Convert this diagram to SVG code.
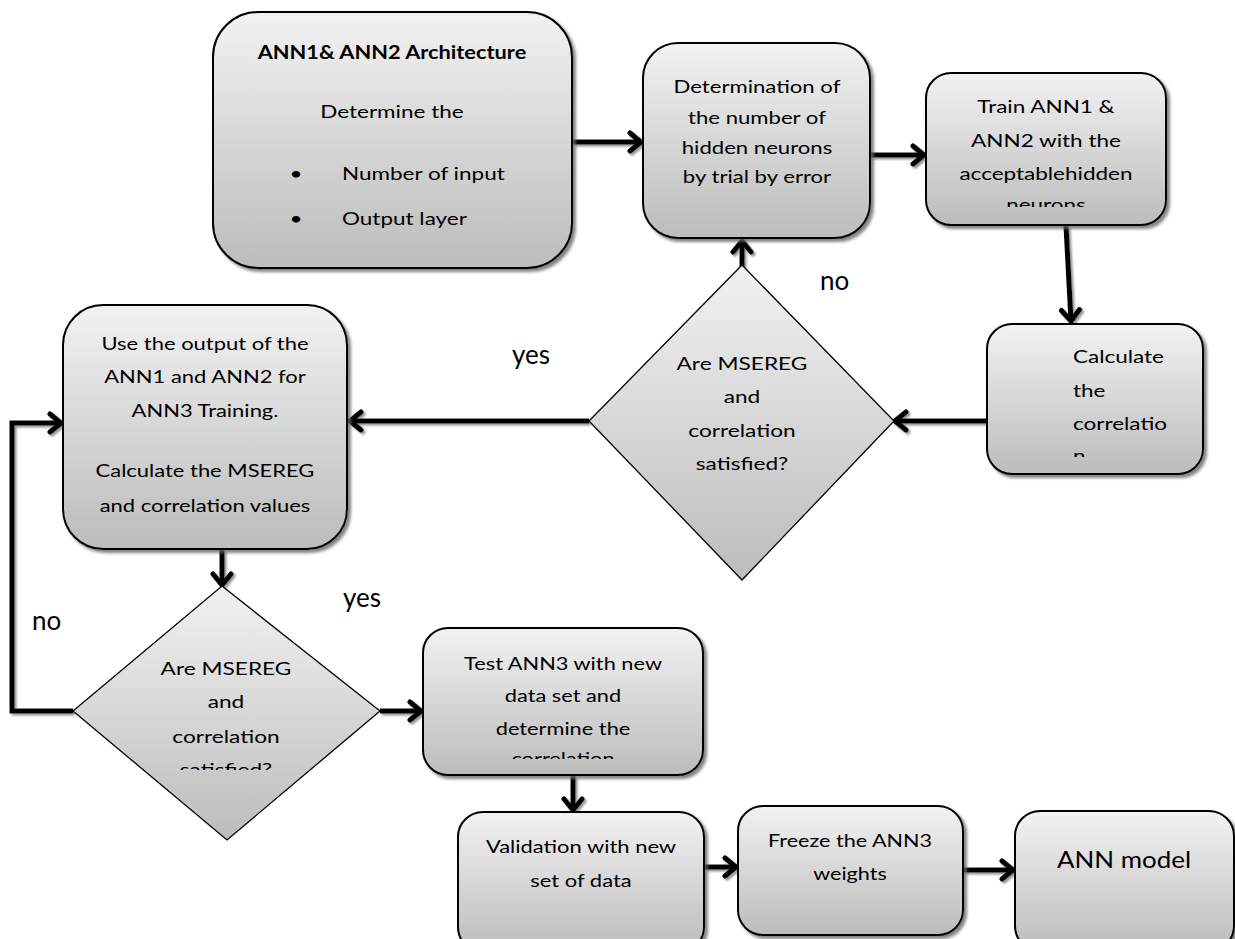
<svg xmlns="http://www.w3.org/2000/svg" width="1235" height="939" viewBox="0 0 1235 939">
<style>
  .box{fill:url(#g);stroke:#000;stroke-width:2;filter:url(#sh)}
  .dia{fill:url(#g);stroke:#000;stroke-width:1.3}
  .t{font-family:Lato,"Liberation Sans",sans-serif;font-size:18px;fill:#000;text-anchor:middle}
  .tl{text-anchor:start}
  .b{font-weight:bold}
  .lbl{font-family:Lato,"Liberation Sans",sans-serif;font-size:26px;fill:#000}
  .c{fill:none;stroke:#000;stroke-width:5;marker-end:url(#ah)}
</style>
<defs>
  <linearGradient id="g" x1="0" y1="0" x2="0" y2="1">
    <stop offset="0" stop-color="#f2f2f2"/>
    <stop offset="1" stop-color="#bcbcbc"/>
  </linearGradient>
  <filter id="sh" x="-10%" y="-10%" width="130%" height="130%">
    <feDropShadow dx="3" dy="3" stdDeviation="1.5" flood-color="#666" flood-opacity="0.8"/>
  </filter>
  <filter id="ls" x="-20%" y="-20%" width="140%" height="140%">
    <feDropShadow dx="2" dy="2" stdDeviation="1" flood-color="#777" flood-opacity="0.8"/>
  </filter>
  <marker id="ah" viewBox="-14 -12 18 24" markerWidth="18" markerHeight="24" refX="0" refY="0" orient="auto" markerUnits="userSpaceOnUse">
    <path d="M-11,-9 L0,0 L-11,9" fill="none" stroke="#000" stroke-width="5" stroke-linecap="round" stroke-linejoin="miter"/>
  </marker>
  <clipPath id="c3"><rect x="926" y="60" width="240" height="147"/></clipPath>
  <clipPath id="cc"><rect x="987" y="320" width="216" height="137"/></clipPath>
  <clipPath id="cd2"><rect x="60" y="580" width="330" height="190"/></clipPath>
  <clipPath id="ct"><rect x="423" y="620" width="280" height="139"/></clipPath>
</defs>

<g id="connectors" filter="url(#ls)">
  <line class="c" x1="573" y1="142" x2="641" y2="142"/>
  <line class="c" x1="870" y1="155" x2="924" y2="155"/>
  <line class="c" x1="1066" y1="226" x2="1071" y2="321"/>
  <line class="c" x1="987" y1="421" x2="895" y2="421"/>
  <line class="c" x1="742" y1="282" x2="742" y2="241"/>
  <line class="c" x1="589" y1="421" x2="350" y2="421"/>
  <line class="c" x1="222" y1="550" x2="222" y2="585"/>
  <polyline class="c" points="73,711 12,711 12,423 61,423"/>
  <line class="c" x1="380" y1="711" x2="421" y2="711"/>
  <line class="c" x1="573" y1="776" x2="573" y2="810"/>
  <line class="c" x1="704" y1="867" x2="736" y2="867"/>
  <line class="c" x1="963" y1="870" x2="1013" y2="870"/>
</g>

<g id="n-arch">
  <rect class="box" x="213" y="12" width="359" height="256" rx="45"/>
  <g transform="matrix(1.21,0,0,1,-82.32,0)">
    <text class="t b" x="392" y="59">ANN1&amp; ANN2 Architecture</text>
  </g>
  <g transform="matrix(1.25,0,0,1,-98,0)">
    <text class="t" x="392" y="118">Determine the</text>
    <text class="t tl" x="310" y="180">•</text>
    <text class="t tl" x="352" y="180">Number of input</text>
    <text class="t tl" x="310" y="225">•</text>
    <text class="t tl" x="352" y="225">Output layer</text>
  </g>
</g>

<g id="n-hidden">
  <rect class="box" x="643" y="43" width="227" height="195" rx="35"/>
  <g transform="matrix(1.23,0,0,1,-174.11,0)">
    <text class="t" x="757" y="93">Determination of</text>
    <text class="t" x="757" y="124">the number of</text>
    <text class="t" x="757" y="154">hidden neurons</text>
    <text class="t" x="757" y="183">by trial by error</text>
  </g>
</g>

<g id="n-train">
  <rect class="box" x="926" y="73" width="240" height="152" rx="25"/>
  <g clip-path="url(#c3)">
    <g transform="matrix(1.25,0,0,1,-261.5,0)">
      <text class="t" x="1046" y="113">Train ANN1 &amp;</text>
      <text class="t" x="1046" y="147">ANN2 with the</text>
      <text class="t" x="1046" y="180">acceptablehidden</text>
      <text class="t" x="1046" y="211">neurons</text>
    </g>
  </g>
</g>

<g id="n-calc">
  <rect class="box" x="987" y="324" width="216" height="150" rx="25"/>
  <g clip-path="url(#cc)">
    <g transform="matrix(1.25,0,0,1,-268.25,0)">
      <text class="t tl" x="1073" y="363">Calculate</text>
      <text class="t tl" x="1073" y="397">the</text>
      <text class="t tl" x="1073" y="430">correlatio</text>
      <text class="t tl" x="1073" y="462">n</text>
    </g>
  </g>
</g>

<g id="n-dec1">
  <polygon class="dia" points="742,265 894,421 742,580 589,421"/>
  <g transform="matrix(1.26,0,0,1,-192.92,0)">
    <text class="t" x="742" y="370">Are MSEREG</text>
    <text class="t" x="742" y="403">and</text>
    <text class="t" x="742" y="437">correlation</text>
    <text class="t" x="742" y="470">satisfied?</text>
  </g>
</g>

<g id="n-use">
  <rect class="box" x="63" y="305" width="284" height="244" rx="40"/>
  <g transform="matrix(1.22,0,0,1,-45.1,0)">
    <text class="t" x="205" y="350">Use the output of the</text>
    <text class="t" x="205" y="383">ANN1 and ANN2 for</text>
    <text class="t" x="205" y="417">ANN3 Training.</text>
    <text class="t" x="205" y="477">Calculate the MSEREG</text>
    <text class="t" x="205" y="512">and correlation values</text>
  </g>
</g>

<g id="n-dec2">
  <polygon class="dia" points="222,586 380,711 227,840 73,711"/>
  <g clip-path="url(#cd2)">
    <g transform="matrix(1.26,0,0,1,-58.76,0)">
      <text class="t" x="226" y="675">Are MSEREG</text>
      <text class="t" x="226" y="708">and</text>
      <text class="t" x="226" y="743">correlation</text>
      <text class="t" x="226" y="776">satisfied?</text>
    </g>
  </g>
</g>

<g id="n-test">
  <rect class="box" x="423" y="628" width="280" height="147" rx="25"/>
  <g clip-path="url(#ct)">
    <g transform="matrix(1.21,0,0,1,-118.23,0)">
      <text class="t" x="563" y="670">Test ANN3 with new</text>
      <text class="t" x="563" y="702">data set and</text>
      <text class="t" x="563" y="735">determine the</text>
      <text class="t" x="563" y="765">correlation</text>
    </g>
  </g>
</g>

<g id="n-valid">
  <rect class="box" x="458" y="812" width="246" height="140" rx="25"/>
  <g transform="matrix(1.22,0,0,1,-127.82,0)">
    <text class="t" x="581" y="853">Validation with new</text>
    <text class="t" x="581" y="887">set of data</text>
  </g>
</g>

<g id="n-freeze">
  <rect class="box" x="738" y="806" width="225" height="129" rx="25"/>
  <g transform="matrix(1.2,0,0,1,-170,0)">
    <text class="t" x="850" y="847">Freeze the ANN3</text>
    <text class="t" x="850" y="880">weights</text>
  </g>
</g>

<g id="n-model">
  <rect class="box" x="1015" y="811" width="219" height="140" rx="25"/>
  <g transform="matrix(1.08,0,0,1,-89.92,0)">
    <text class="t" x="1124" y="868" style="font-size:24px">ANN model</text>
  </g>
</g>

<g id="labels">
  <text class="lbl" x="820" y="290">no</text>
  <text class="lbl" x="512" y="364">yes</text>
  <text class="lbl" x="32" y="630">no</text>
  <text class="lbl" x="343" y="607">yes</text>
</g>
</svg>
